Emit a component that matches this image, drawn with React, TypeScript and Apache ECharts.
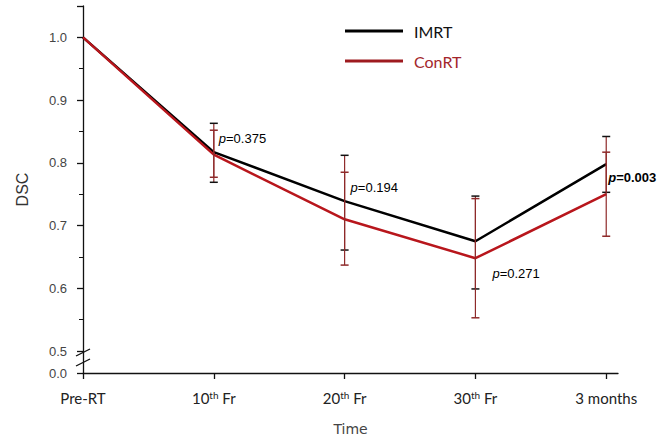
import React, { useEffect, useRef } from "react";
import * as echarts from "echarts";

const categories = ["Pre-RT", "10th Fr", "20th Fr", "30th Fr", "3 months"];
const imrtMean = [1.0, 0.817, 0.739, 0.675, 0.798];
const imrtLower = [1.0, 0.769, 0.661, 0.599, 0.753];
const imrtUpper = [1.0, 0.863, 0.812, 0.747, 0.842];
const conrtMean = [1.0, 0.813, 0.71, 0.648, 0.75];
const conrtLower = [1.0, 0.777, 0.637, 0.553, 0.683];
const conrtUpper = [1.0, 0.852, 0.785, 0.743, 0.817];
const pValues = ["0.375", "0.194", "0.271", "0.003"];
const pAt = [1, 2, 3, 4];
const pY = [0.839, 0.76, 0.624, 0.777];
const pBold = [false, false, false, true];
const yTicks = [0.465, 0.5, 0.6, 0.7, 0.8, 0.9, 1.0];
const yMinor = [0.55, 0.65, 0.75, 0.85, 0.95];

const BREAK_VALUE = 0.465;

export default function App() {
  const ref = useRef<HTMLDivElement>(null);
  useEffect(() => {
    if (!ref.current) return;
    const chart = echarts.init(ref.current, null, { renderer: "svg" });
    const xIdx = categories.map((_, i) => i);
    const errData = (lo: number[], hi: number[]) =>
      xIdx.filter((i) => lo[i] !== hi[i]).map((i) => [i, lo[i], hi[i]]);
    const pDx = [5, 6, 17, 2];

    const errSeries = (name: string, lo: number[], hi: number[], capColor: string, capW: number) => ({
      type: "custom",
      name,
      z: 5,
      data: errData(lo, hi),
      renderItem: (params: any, api: any) => {
        const x = api.value(0);
        const a = api.coord([x, api.value(1)]);
        const b = api.coord([x, api.value(2)]);
        return {
          type: "group",
          children: [
            { type: "line", shape: { x1: a[0], y1: a[1], x2: b[0], y2: b[1] }, style: { stroke: "#8e2a2a", lineWidth: 1.2 } },
            { type: "line", shape: { x1: a[0] - capW, y1: a[1], x2: a[0] + capW, y2: a[1] }, style: { stroke: capColor, lineWidth: 1.5 } },
            { type: "line", shape: { x1: b[0] - capW, y1: b[1], x2: b[0] + capW, y2: b[1] }, style: { stroke: capColor, lineWidth: 1.5 } },
          ],
        };
      },
    });

    const option: any = {
      animation: false,
      backgroundColor: "#fff",
      grid: { left: 83, right: 46, top: 6, bottom: 65, containLabel: false, outerBoundsMode: "none" },
      legend: {
        data: [
          { name: "IMRT", textStyle: { color: "#111" } },
          { name: "ConRT", textStyle: { color: "#a3262b" } },
        ],
        orient: "vertical",
        left: 340,
        top: 17,
        icon: "rect",
        itemWidth: 58,
        itemHeight: 3,
        itemGap: 12,
        textStyle: { fontFamily: "Lato", fontSize: 16, padding: [0, 0, 0, 6], lineHeight: 18 },
      },
      xAxis: {
        type: "value",
        min: 0,
        max: 4.09,
        interval: 1,
        name: "Time",
        nameLocation: "middle",
        nameGap: 49,
        nameTextStyle: { fontFamily: "DejaVu Sans", fontSize: 14, color: "#444" },
        axisLine: { lineStyle: { color: "#111", width: 1.3 } },
        axisTick: { customValues: xIdx, length: 6, lineStyle: { color: "#111", width: 1.3 } },
        splitLine: { show: false },
        axisLabel: {
          customValues: xIdx,
          margin: 17,
          formatter: (v: number) => {
            const c = categories[Math.round(v)] || "";
            const m = c.match(/^(\d+)(th)(.*)$/);
            if (m) return `{n|${m[1]}}{sup|${m[2]}}{n|${m[3]}}`;
            return `{n|${c}}`;
          },
          rich: {
            n: { fontFamily: "Lato", fontSize: 15, color: "#222" },
            sup: { fontFamily: "Lato", fontSize: 10, color: "#222", verticalAlign: "top" },
          },
        },
      },
      yAxis: [
        {
          type: "value",
          min: BREAK_VALUE,
          max: 1.05,
          name: "DSC",
          nameLocation: "middle",
          nameGap: 53,
          nameRotate: 90,
          nameTextStyle: { fontFamily: "Liberation Sans", fontSize: 16, color: "#333" },
          axisLine: { show: true, lineStyle: { color: "#111", width: 1.3 } },
          axisTick: { show: true, customValues: [...yTicks, 1.05], length: 6, lineStyle: { color: "#111", width: 1.3 } },
          splitLine: { show: false },
          axisLabel: {
            customValues: yTicks,
            margin: 16,
            fontFamily: "Liberation Sans",
            fontSize: 13,
            color: "#444",
            formatter: (v: number) => (v < 0.49 ? "0.0" : v.toFixed(1)),
          },
        },
        {
          type: "value",
          min: BREAK_VALUE,
          max: 1.05,
          position: "left",
          axisLine: { show: false },
          axisTick: { show: true, customValues: yMinor, length: 4, lineStyle: { color: "#111", width: 1 } },
          axisLabel: { show: false },
          splitLine: { show: false },
        },
      ],
      graphic: [
        { type: "line", shape: { x1: 76, y1: 356, x2: 90, y2: 349 }, style: { stroke: "#111", lineWidth: 1.3 } },
        { type: "line", shape: { x1: 76, y1: 366, x2: 90, y2: 359 }, style: { stroke: "#111", lineWidth: 1.3 } },
      ],
      series: [
        {
          name: "IMRT",
          type: "line",
          symbol: "none",
          z: 3,
          lineStyle: { color: "#000", width: 2.5 },
          itemStyle: { color: "#000" },
          data: xIdx.map((i) => [i, imrtMean[i]]),
        },
        {
          name: "ConRT",
          type: "line",
          symbol: "none",
          z: 4,
          lineStyle: { color: "#b8161c", width: 2.5 },
          itemStyle: { color: "#9e1a1f" },
          data: xIdx.map((i) => [i, conrtMean[i]]),
        },
        errSeries("errIMRT", imrtLower, imrtUpper, "#111", 4),
        errSeries("errConRT", conrtLower, conrtUpper, "#8e2a2a", 4),
        {
          type: "custom",
          name: "pvals",
          z: 6,
          data: pValues.map((p, i) => [pAt[i], pY[i], i]),
          renderItem: (params: any, api: any) => {
            const k = api.value(2);
            const pt = api.coord([api.value(0), api.value(1)]);
            const bold = pBold[k];
            return {
              type: "text",
              x: pt[0] + pDx[k],
              y: pt[1],
              style: {
                text: bold ? `{ib|p}{b|=${pValues[k]}}` : `{i|p}{n|=${pValues[k]}}`,
                verticalAlign: "middle",
                align: "left",
                rich: {
                  i: { fontFamily: "Liberation Sans", fontStyle: "italic", fontSize: 13, color: "#333" },
                  n: { fontFamily: "Liberation Sans", fontSize: 13, color: "#333" },
                  ib: { fontFamily: "Liberation Sans", fontStyle: "italic", fontWeight: "bold", fontSize: 13, color: "#111" },
                  b: { fontFamily: "Liberation Sans", fontWeight: "bold", fontSize: 13, color: "#111" },
                },
              },
            };
          },
        },
      ],
    };
    chart.setOption(option);
    return () => chart.dispose();
  }, []);
  return <div ref={ref} style={{ width: 664, height: 438, position: "absolute", left: 0, top: 0 }} />;
}
